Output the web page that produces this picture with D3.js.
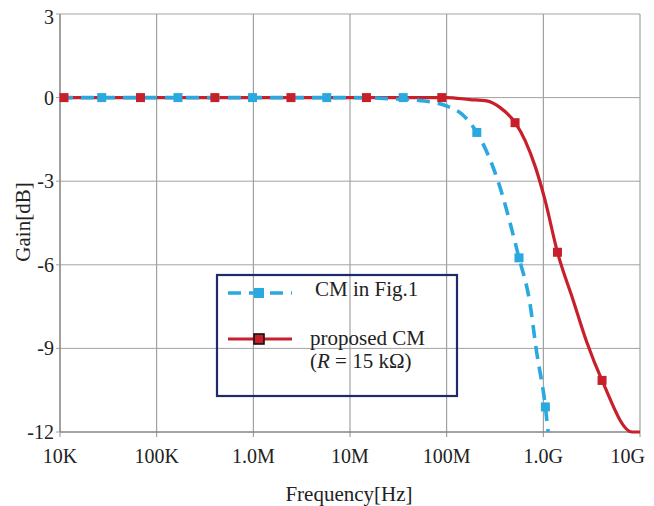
<!DOCTYPE html>
<html>
<head>
<meta charset="utf-8">
<script src="https://d3js.org/d3.v7.min.js"></script>
<style>
  body { margin: 0; background: #fff; }
  text { font-family: "Liberation Serif", "DejaVu Serif", serif; fill: #222; }
  .grid line { stroke: #a3a3a3; stroke-width: 1; }
</style>
</head>
<body>
<script>
// tick labels
var xTicks = [1e4, 1e5, 1e6, 1e7, 1e8, 1e9, 1e10];
var xTickLabels = ["10K", "100K", "1.0M", "10M", "100M", "1.0G", "10G"];
var yTicks = [3, 0, -3, -6, -9, -12];

// CM in Fig.1 (blue dashed): frequency [Hz], gain [dB]
var cmFreq = [1e4, 1e6, 1e7, 3e7, 5.2e7, 1e8, 1.5e8, 2.05e8, 3.4e8, 5.6e8, 7.2e8, 8.5e8, 1.05e9, 1.12e9];
var cmGain = [0, 0, 0, -0.05, -0.1, -0.3, -0.65, -1.25, -3, -5.75, -7.3, -9.1, -11.1, -12];
var cmMarkFreq = [2.7e4, 1.66e5, 9.8e5, 5.75e6, 3.55e7, 2.05e8, 5.6e8, 1.05e9];
var cmMarkGain = [0, 0, 0, 0, 0, -1.25, -5.75, -11.1];

// proposed CM (R = 15 kOhm) (red solid)
var prFreq = [1e4, 1e6, 1e7, 1e8, 1.74e8, 2.6e8, 3.55e8, 5.1e8, 6.5e8, 8.2e8, 1.04e9, 1.4e9, 2.03e9, 2.83e9, 4.05e9, 8.3e9, 1e10];
var prGain = [0, 0, 0, 0, -0.07, -0.12, -0.35, -0.9, -1.55, -2.45, -3.67, -5.55, -7.26, -8.8, -10.15, -12, -12];
var prMarkFreq = [1.1e4, 6.8e4, 4e5, 2.45e6, 1.48e7, 8.9e7, 5.1e8, 1.4e9, 4.05e9];
var prMarkGain = [0, 0, 0, 0, 0, 0, -0.9, -5.55, -10.15];

var blue = "#2aa9e0", red = "#c8202b";

var W = 654, H = 506;
var margin = {top: 14, right: 14, bottom: 74, left: 60};
var x = d3.scaleLog().domain([1e4, 1e10]).range([margin.left, W - margin.right]);
var y = d3.scaleLinear().domain([-12, 3]).range([H - margin.bottom, margin.top]);

var svg = d3.select("body").append("svg")
  .attr("width", W).attr("height", H);

// grid
var grid = svg.append("g").attr("class", "grid");
grid.selectAll(".gx").data(xTicks).enter().append("line")
  .attr("x1", function(d){ return x(d); }).attr("x2", function(d){ return x(d); })
  .attr("y1", y(3)).attr("y2", y(-12) + 5)
  .style("stroke", "#8f8f8f");
grid.selectAll(".gy").data(yTicks).enter().append("line")
  .attr("x1", x(1e4) - 4).attr("x2", x(1e10))
  .attr("y1", function(d){ return y(d); }).attr("y2", function(d){ return y(d); });
// axis lines
svg.append("line").attr("x1", x(1e4)).attr("x2", x(1e4)).attr("y1", y(3)).attr("y2", y(-12))
  .style("stroke", "#888").style("stroke-width", 1.2);
svg.append("line").attr("x1", x(1e4)).attr("x2", x(1e10)).attr("y1", y(-12)).attr("y2", y(-12))
  .style("stroke", "#777").style("stroke-width", 1.2);

// tick labels (last one pulled in so it stays on the page)
svg.selectAll(".xl").data(xTicks).enter().append("text")
  .attr("x", function(d, i){ return i === xTicks.length - 1 ? x(d) + 5 : x(d); }).attr("y", 463)
  .attr("text-anchor", function(d, i){ return i === xTicks.length - 1 ? "end" : "middle"; })
  .style("font-size", "20px")
  .text(function(d, i){ return xTickLabels[i]; });
svg.selectAll(".yl").data(yTicks).enter().append("text")
  .attr("x", 54).attr("y", function(d){ return y(d) + (d === 3 ? 10 : 7); })
  .attr("text-anchor", "end").style("font-size", "20px")
  .text(function(d){ return d; });

// axis titles
svg.append("text").attr("x", 349).attr("y", 501).attr("text-anchor", "middle")
  .style("font-size", "21px").text("Frequency[Hz]");
svg.append("text").attr("transform", "translate(30,222) rotate(-90)").attr("text-anchor", "middle")
  .style("font-size", "21px").text("Gain[dB]");

var line = d3.line()
  .x(function(d){ return x(d[0]); })
  .y(function(d){ return y(d[1]); })
  .curve(d3.curveMonotoneX);

var cmData = d3.zip(cmFreq, cmGain);
var prData = d3.zip(prFreq, prGain);

// red line first, blue dashed over it
svg.append("path").datum(prData).attr("d", line)
  .style("fill", "none").style("stroke", red).style("stroke-width", 3.2);
svg.append("path").datum(cmData).attr("d", line)
  .style("fill", "none").style("stroke", blue).style("stroke-width", 3.6)
  .style("stroke-dasharray", "13,8");

svg.selectAll(".pm").data(d3.zip(prMarkFreq, prMarkGain)).enter().append("rect")
  .attr("x", function(d){ return x(d[0]) - 4.5; }).attr("y", function(d){ return y(d[1]) - 4.5; })
  .attr("width", 9).attr("height", 9).style("fill", red);
svg.selectAll(".cm").data(d3.zip(cmMarkFreq, cmMarkGain)).enter().append("rect")
  .attr("x", function(d){ return x(d[0]) - 4.5; }).attr("y", function(d){ return y(d[1]) - 4.5; })
  .attr("width", 9).attr("height", 9).style("fill", blue);

// legend
var lg = svg.append("g");
lg.append("rect").attr("x", 217).attr("y", 275).attr("width", 240).attr("height", 121)
  .style("fill", "none").style("stroke", "#1e2b6b").style("stroke-width", 2.2);
lg.append("line").attr("x1", 228).attr("x2", 292).attr("y1", 293).attr("y2", 293)
  .style("stroke", blue).style("stroke-width", 3.6).style("stroke-dasharray", "13,8");
lg.append("rect").attr("x", 254).attr("y", 288).attr("width", 10).attr("height", 10).style("fill", blue);
lg.append("text").attr("x", 315).attr("y", 296).style("font-size", "21px").text("CM in Fig.1");
lg.append("line").attr("x1", 228).attr("x2", 292).attr("y1", 339).attr("y2", 339)
  .style("stroke", red).style("stroke-width", 3.2);
lg.append("rect").attr("x", 254).attr("y", 334).attr("width", 10).attr("height", 10)
  .style("fill", red).style("stroke", "#111").style("stroke-width", 1.6);
lg.append("text").attr("x", 310).attr("y", 345).style("font-size", "21px").text("proposed CM");
var t = lg.append("text").attr("x", 310).attr("y", 368).style("font-size", "21px");
t.append("tspan").text("(");
t.append("tspan").style("font-style", "italic").text("R");
t.append("tspan").text(" = 15 k\u03A9)");
</script>
</body>
</html>
